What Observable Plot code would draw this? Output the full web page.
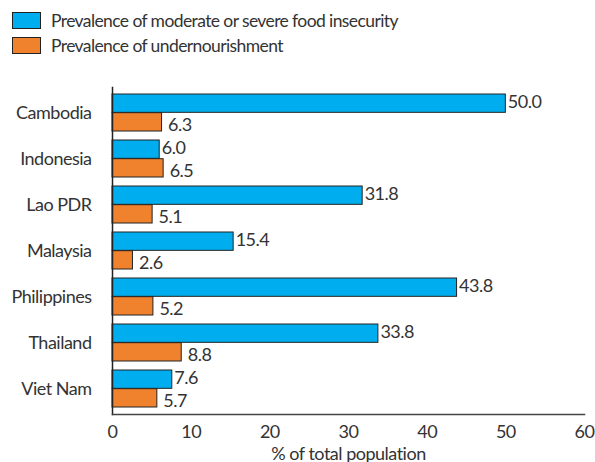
<!DOCTYPE html>
<html>
<head>
<meta charset="utf-8">
<script src="https://cdn.jsdelivr.net/npm/d3@7"></script>
<script src="https://cdn.jsdelivr.net/npm/@observablehq/plot@0.6"></script>
<style>
  body { margin: 0; background: #fff; font-family: Lato, "Open Sans", sans-serif; color: #333; }
  #wrap { width: 595px; height: 462px; position: relative; overflow: hidden; }
  .legend { position: absolute; left: 12px; top: 0; height: 62px; }
  .item { position: absolute; left: 0; display: flex; align-items: center; white-space: nowrap; font-size: 17.5px; letter-spacing: -0.6px; color: #333; }
  .sw { width: 27px; height: 15px; border: 1px solid #222; margin-right: 10px; }
  #chart { position: absolute; left: 0; top: 62px; }
  #chart svg text { letter-spacing: -0.5px; }
</style>
</head>
<body>
<div id="wrap">
  <div class="legend">
    <div class="item" style="top:10px"><span class="sw" style="background:#00aeef"></span>Prevalence of moderate or severe food insecurity</div>
    <div class="item" style="top:35px"><span class="sw" style="background:#f1822d"></span>Prevalence of undernourishment</div>
  </div>
  <div id="chart"></div>
</div>
<script>
const countries = ["Cambodia", "Indonesia", "Lao PDR", "Malaysia", "Philippines", "Thailand", "Viet Nam"];
const foodInsecurity = [50.0, 6.0, 31.8, 15.4, 43.8, 33.8, 7.6];
const undernourishment = [6.3, 6.5, 5.1, 2.6, 5.2, 8.8, 5.7];
const xTicks = [0, 10, 20, 30, 40, 50, 60];

const dataFI = countries.map((c, i) => ({country: c, value: foodInsecurity[i]}));
const dataPU = countries.map((c, i) => ({country: c, value: undernourishment[i]}));

const W = 595, H = 400, mt = 25, mb = 48, ml = 112, mr = 11;
const pIn = 0.2, pOut = 0.1;
const step = (H - mt - mb) / (countries.length - pIn + 2 * pOut);
const bw = step * (1 - pIn);
const half = bw / 2;

const chart = Plot.plot({
  width: W, height: H,
  marginTop: mt, marginBottom: mb, marginLeft: ml, marginRight: mr,
  style: {fontFamily: "Lato, 'Open Sans', sans-serif", fontSize: "18px", color: "#333", background: "#fff", overflow: "visible"},
  x: {domain: [0, 60], ticks: xTicks, tickSize: 0, tickPadding: 11, label: "% of total population", labelAnchor: "center", labelArrow: "none", labelOffset: 45},
  y: {domain: countries, paddingInner: pIn, paddingOuter: pOut, tickSize: 0, tickPadding: 21, label: null},
  marks: [
    Plot.barX(dataFI, {x: "value", y: "country", fill: "#00aeef", stroke: "#222", strokeWidth: 1, insetBottom: half}),
    Plot.barX(dataPU, {x: "value", y: "country", fill: "#f1822d", stroke: "#222", strokeWidth: 1, insetTop: half}),
    Plot.text(dataFI, {x: "value", y: "country", text: d => d.value.toFixed(1), textAnchor: "start", dx: 2, dy: -half / 2 - 1, fill: "#333", fontSize: 18}),
    Plot.text(dataPU, {x: "value", y: "country", text: d => d.value.toFixed(1), textAnchor: "start", dx: 6, dy: half / 2 + 3, fill: "#333", fontSize: 18}),
    Plot.frame({anchor: "left", stroke: "#222", strokeWidth: 1.5}),
    Plot.frame({anchor: "bottom", stroke: "#444", strokeWidth: 1.5})
  ]
});
document.getElementById("chart").appendChild(chart);
</script>
</body>
</html>
